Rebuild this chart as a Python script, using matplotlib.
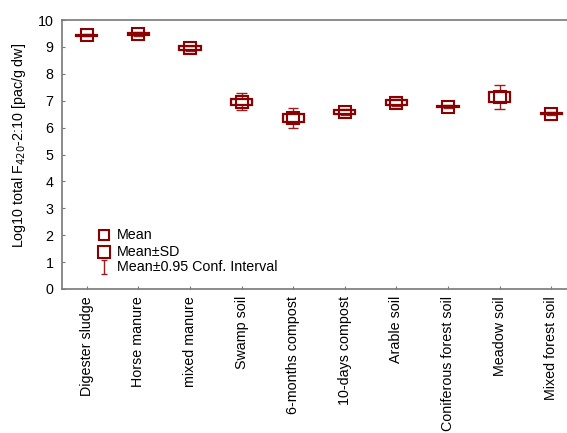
import matplotlib
matplotlib.use("Agg")
import matplotlib.pyplot as plt
import numpy as np
from matplotlib.path import Path

plt.rcParams['font.family'] = ['Liberation Sans', 'DejaVu Sans']

categories = ["Digester sludge", "Horse manure", "mixed manure", "Swamp soil",
              "6-months compost", "10-days compost", "Arable soil",
              "Coniferous forest soil", "Meadow soil", "Mixed forest soil"]
means = [9.44, 9.48, 8.95, 6.96, 6.35, 6.57, 6.93, 6.78, 7.13, 6.52]
sds = [0.02, 0.05, 0.07, 0.12, 0.16, 0.07, 0.09, 0.03, 0.18, 0.03]
cis = [0.03, 0.08, 0.10, 0.32, 0.37, 0.11, 0.14, 0.05, 0.44, 0.05]
yticks = list(range(0, 11))
legend_labels = ["Mean", "Mean\u00b1SD", "Mean\u00b10.95 Conf. Interval"]

red = "#8b0000"
whisk = "#9a2020"
gray = "#787878"
fs = 10.3

fig = plt.figure(figsize=(5.67, 4.33), dpi=100)
ax = fig.add_axes([62/567, 1 - 289/433, 516/567, 269/433])

x = np.arange(len(categories))
m = np.array(means)
s = np.array(sds)
c = np.array(cis)

# confidence-interval whiskers (from box edge out to the caps)
ax.vlines(x, m + s, m + c, color=whisk, lw=1.0, zorder=2)
ax.vlines(x, m - c, m - s, color=whisk, lw=1.0, zorder=2)
ax.hlines(m + c, x - 0.1, x + 0.1, color=whisk, lw=1.0, zorder=2)
ax.hlines(m - c, x - 0.1, x + 0.1, color=whisk, lw=1.0, zorder=2)

# mean +/- SD boxes
ax.bar(x, 2 * s, bottom=m - s, width=0.41, fill=False, edgecolor=red,
       linewidth=1.6, zorder=3)

# mean markers
ax.plot(x, m, ls='none', marker='s', ms=8.5, mfc='none', mec=red, mew=1.5,
        zorder=4)

ax.set_xlim(-0.48, 9.52)
ax.set_ylim(0, 10)
ax.set_yticks(yticks)
ax.set_xticks(x)
ax.set_xticklabels(categories, rotation=90, fontsize=fs)
ax.tick_params(axis='y', labelsize=fs, pad=6)
ax.tick_params(axis='x', pad=5)
ax.tick_params(direction='in', length=2.5, width=0.8, color=gray)

for sp in ax.spines.values():
    sp.set_color(gray)
    sp.set_linewidth(1.2)

ax.set_ylabel("Log10 total F$_{420}$-2:10 [pac/g dw]", fontsize=fs)
ax.yaxis.set_label_coords(-0.066, 0.532)

# legend, drawn in axes coordinates
ibeam = Path([(-0.5, -1), (0.5, -1), (0, -1), (0, 1), (-0.5, 1), (0.5, 1)],
             [Path.MOVETO, Path.LINETO, Path.MOVETO, Path.LINETO,
              Path.MOVETO, Path.LINETO])
glyphs = [dict(marker='s', ms=7.0, mfc='none', mec=red, mew=1.5),
          dict(marker='s', ms=9.3, mfc='none', mec=red, mew=1.5),
          dict(marker=ibeam, ms=9.5, mec=whisk, mew=1.0)]
rows = [0.2007, 0.1375, 0.0836]
for g, yr, lab in zip(glyphs, rows, legend_labels):
    ax.plot([0.0814], [yr], ls='none', transform=ax.transAxes,
            clip_on=False, **g)
    ax.text(0.1066, yr, lab, transform=ax.transAxes, va='center',
            ha='left', fontsize=fs)

fig.savefig("out.png", dpi=100)
